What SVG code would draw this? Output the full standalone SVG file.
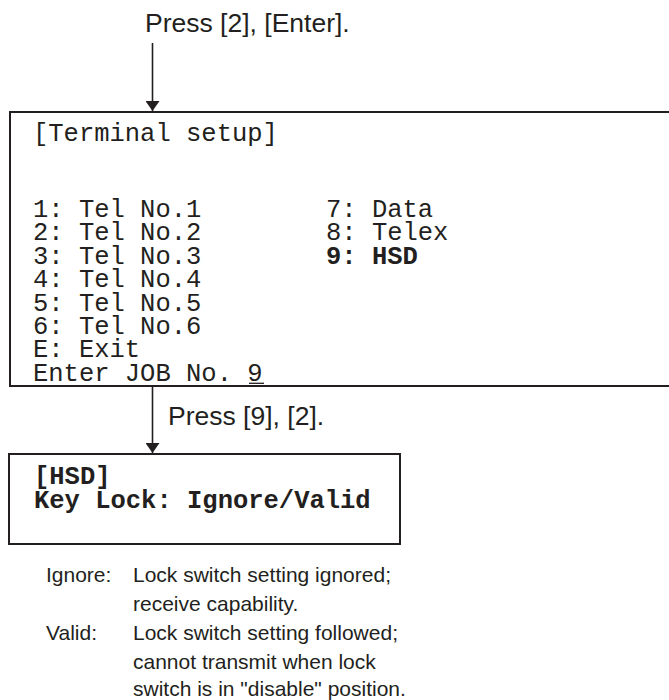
<svg xmlns="http://www.w3.org/2000/svg" width="669" height="700" viewBox="0 0 669 700">
<style>
.lbl{font-family:"Liberation Sans",Arial,sans-serif;font-size:26.5px;fill:#231f20}
.note{font-family:"Liberation Sans",Arial,sans-serif;font-size:21px;fill:#231f20}
.mono{font-family:"Liberation Mono","Courier New",monospace;font-size:25.5px;fill:#231f20}
.b{font-weight:bold}
.box{fill:none;stroke:#231f20;stroke-width:2}
.conn{stroke:#231f20;stroke-width:1.6;fill:none}
</style>
<defs>
<marker id="ah" viewBox="0 0 10 14" refX="10" refY="7" markerWidth="10" markerHeight="14" markerUnits="userSpaceOnUse" orient="auto">
<path d="M0,0 L10,7 L0,14 Z" fill="#231f20"/>
</marker>
</defs>
<g id="connectors">
<line class="conn" x1="152.5" y1="43" x2="152.5" y2="111" marker-end="url(#ah)"/>
<line class="conn" x1="152.5" y1="387" x2="152.5" y2="453" marker-end="url(#ah)"/>
<text class="lbl" x="145" y="32">Press [2], [Enter].</text>
<text class="lbl" x="168" y="425">Press [9], [2].</text>
</g>
<g id="terminal-setup">
<rect class="box" x="10" y="112" width="680" height="274"/>
<text class="mono" x="33" y="141">[Terminal setup]</text>
<text class="mono" x="33" y="217">1: Tel No.1</text>
<text class="mono" x="33" y="240.4">2: Tel No.2</text>
<text class="mono" x="33" y="263.8">3: Tel No.3</text>
<text class="mono" x="33" y="287.2">4: Tel No.4</text>
<text class="mono" x="33" y="310.6">5: Tel No.5</text>
<text class="mono" x="33" y="334">6: Tel No.6</text>
<text class="mono" x="33" y="357.4">E: Exit</text>
<text class="mono" x="33" y="380.8">Enter JOB No. 9</text>
<line x1="249" y1="383.3" x2="264" y2="383.3" stroke="#231f20" stroke-width="1.3"/>
<text class="mono" x="326" y="217">7: Data</text>
<text class="mono" x="326" y="240.4">8: Telex</text>
<text class="mono b" x="326" y="263.8">9: HSD</text>
</g>
<g id="hsd">
<rect class="box" x="9" y="454" width="391" height="90"/>
<text class="mono b" x="34" y="484">[HSD]</text>
<text class="mono b" x="34" y="508">Key Lock: Ignore/Valid</text>
</g>
<g id="notes">
<text class="note" x="46" y="582">Ignore:</text>
<text class="note" x="133" y="582">Lock switch setting ignored;</text>
<text class="note" x="133" y="611">receive capability.</text>
<text class="note" x="46" y="640">Valid:</text>
<text class="note" x="133" y="640">Lock switch setting followed;</text>
<text class="note" x="133" y="669">cannot transmit when lock</text>
<text class="note" x="133" y="696">switch is in "disable" position.</text>
</g>
</svg>
